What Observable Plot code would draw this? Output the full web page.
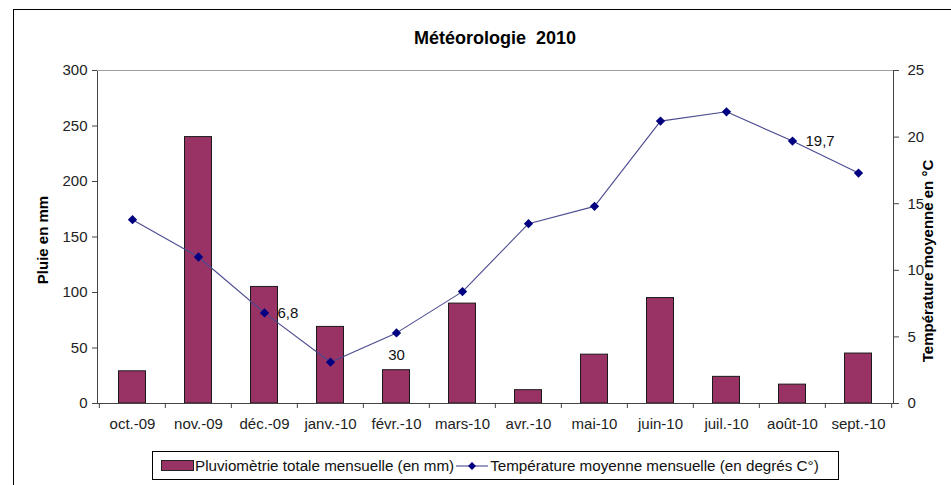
<!DOCTYPE html>
<html>
<head>
<meta charset="utf-8">
<script src="https://cdn.jsdelivr.net/npm/d3@7"></script>
<script src="https://cdn.jsdelivr.net/npm/@observablehq/plot@0.6"></script>
<style>
  body { margin: 0; background: #fff; font-family: "Liberation Sans", Arial, sans-serif; }
  #wrap { position: relative; width: 951px; height: 485px; overflow: hidden; background: #fff; }
  #border { position: absolute; left: 13px; top: 9px; width: 960px; height: 500px; z-index: 5;
            border-left: 1px solid #000; border-top: 1px solid #000; pointer-events: none; }
  #title { position: absolute; left: 97px; width: 796px; top: 27px; text-align: center;
           font-weight: bold; font-size: 18px; color: #000; line-height: 22px; }
  #chart { position: absolute; left: 0; top: 55px; }
  #legend { position: absolute; left: 152px; top: 451px; width: 685px; height: 27px;
            border: 1px solid #000; display: flex; align-items: center; font-size: 15.2px; color: #111;
            box-sizing: content-box; white-space: nowrap; }
  .sw { display: inline-block; width: 31px; height: 9px; background: #993366; border: 1px solid #222;
        margin-left: 8px; margin-right: 1px; }
  .ln { display: inline-block; margin-left: 2px; margin-right: 2px; }
</style>
</head>
<body>
<div id="wrap">
  <div id="title">Météorologie&nbsp; 2010</div>
  <div id="chart"></div>
  <div id="legend"></div>
  <div id="border"></div>
</div>
<script>
const months = ["oct.-09","nov.-09","déc.-09","janv.-10","févr.-10","mars-10","avr.-10","mai-10","juin-10","juil.-10","août-10","sept.-10"];
const rain = [29, 240, 105, 69, 30, 90, 12, 44, 95, 24, 17, 45];
const temp = [13.8, 11.0, 6.8, 3.1, 5.3, 8.4, 13.5, 14.8, 21.2, 21.9, 19.7, 17.3];
const rainTicks = [0, 50, 100, 150, 200, 250, 300];
const tempTicks = [0, 5, 10, 15, 20, 25];
const rainLabelled = ["févr.-10"];
const tempLabelled = ["déc.-09", "août-10"];
const seriesNames = ["Pluviomètrie totale mensuelle (en mm)", "Température moyenne mensuelle (en degrés C°)"];
const axisTitles = ["Pluie en mm", "Température moyenne en °C"];

const rainMax = 300, tempMax = 25, k = rainMax / tempMax;
const data = months.map((m, i) => ({month: m, rain: rain[i], temp: temp[i]}));
const frFmt = v => String(v).replace(".", ",");

const W = 951, H = 385, mL = 97, mR = 58, mT = 15, mB = 37;
const bw = (W - mL - mR) / months.length;
const font = "'Liberation Sans', Arial, sans-serif";

const chart = Plot.plot({
  width: W, height: H,
  marginLeft: mL, marginRight: mR, marginTop: mT, marginBottom: mB,
  style: {fontFamily: font, background: "transparent", color: "#222"},
  x: {type: "band", domain: months, padding: 0, label: null},
  y: {domain: [0, rainMax], label: null},
  marks: [
    Plot.barY(data, {x: "month", y: "rain", fill: "#993366", stroke: "#1a1a1a", strokeWidth: 1,
                     insetLeft: 19.5, insetRight: 19.5}),
    Plot.frame({stroke: "#444"}),
    Plot.ruleY([rainMax], {stroke: "#a0a0a0"}),
    Plot.ruleX(months, {x: d => d, y1: 0, y2: 0, insetBottom: -5, dx: -bw / 2, stroke: "#444"}),
    Plot.ruleX([months[months.length - 1]], {x: d => d, y1: 0, y2: 0, insetBottom: -5, dx: bw / 2, stroke: "#444"}),
    Plot.axisX({tickSize: 0, tickPadding: 15, fontSize: 15, label: null}),
    Plot.axisY({anchor: "left", ticks: rainTicks, tickSize: 5, tickPadding: 5, fontSize: 15, label: null, stroke: "#444"}),
    Plot.axisY({anchor: "right", ticks: tempTicks.map(t => t * k), tickFormat: d => d / k,
                tickSize: 5, tickPadding: 9, fontSize: 15, label: null, stroke: "#444"}),
    Plot.line(data, {x: "month", y: d => d.temp * k, stroke: "#4a4a90", strokeWidth: 1.1}),
    Plot.dot(data, {x: "month", y: d => d.temp * k, symbol: "diamond2", r: 4.2, fill: "#000080", stroke: "none"}),
    Plot.text(data.filter(d => tempLabelled.includes(d.month)),
              {x: "month", y: d => d.temp * k, text: d => frFmt(d.temp), textAnchor: "start", dx: 13,
               fontSize: 15, fill: "#111"}),
    Plot.text(data.filter(d => rainLabelled.includes(d.month)),
              {x: "month", y: "rain", text: d => frFmt(d.rain), dy: -15, fontSize: 15, fill: "#111"}),
    Plot.text([axisTitles[0]], {frameAnchor: "left", textAnchor: "middle", text: d => d, rotate: -90, dx: -54, dy: 3,
              fontSize: 15, fontWeight: "bold", fill: "#000"}),
    Plot.text([axisTitles[1]], {frameAnchor: "right", textAnchor: "middle", text: d => d, rotate: -90, dx: 35, dy: 24,
              fontSize: 15, fontWeight: "bold", fill: "#000"})
  ]
});
document.getElementById("chart").appendChild(chart);

// legend
const legend = document.getElementById("legend");
const sw = document.createElement("span"); sw.className = "sw"; legend.appendChild(sw);
const t1 = document.createElement("span"); t1.textContent = seriesNames[0]; legend.appendChild(t1);
const ln = document.createElementNS("http://www.w3.org/2000/svg", "svg");
ln.setAttribute("width", 32); ln.setAttribute("height", 12); ln.setAttribute("class", "ln");
ln.innerHTML = '<line x1="0" x2="32" y1="6" y2="6" stroke="#4a4a90" stroke-width="1.1"/>' +
  '<path d="M16,2 L20,6 L16,10 L12,6 Z" fill="#000080"/>';
legend.appendChild(ln);
const t2 = document.createElement("span"); t2.textContent = seriesNames[1]; legend.appendChild(t2);
</script>
</body>
</html>
